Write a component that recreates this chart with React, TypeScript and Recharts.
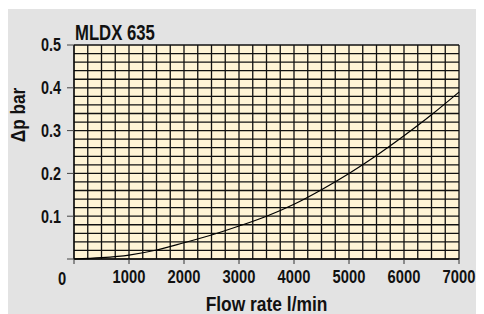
import React from "react";
import { ComposedChart, Line, XAxis, YAxis, CartesianGrid, ReferenceLine } from "recharts";

const flowRates = [0, 500, 1000, 1500, 2000, 2500, 3000, 3500, 4000, 4500, 5000, 5500, 6000, 6500, 7000];
const pressureDrop = [0, 0.003, 0.009, 0.021, 0.038, 0.056, 0.077, 0.1, 0.128, 0.162, 0.2, 0.242, 0.288, 0.337, 0.39];
const xTicks = [0, 1000, 2000, 3000, 4000, 5000, 6000, 7000];
const yTicks = [0, 0.1, 0.2, 0.3, 0.4, 0.5];
const xGridValues = [0, 250, 500, 750, 1000, 1250, 1500, 1750, 2000, 2250, 2500, 2750, 3000, 3250, 3500, 3750, 4000, 4250, 4500, 4750, 5000, 5250, 5500, 5750, 6000, 6250, 6500, 6750, 7000];
const yGridValues = [0, 0.02, 0.04, 0.06, 0.08, 0.1, 0.12, 0.14, 0.16, 0.18, 0.2, 0.22, 0.24, 0.26, 0.28, 0.3, 0.32, 0.34, 0.36, 0.38, 0.4, 0.42, 0.44, 0.46, 0.48, 0.5];
const title = "MLDX 635";
const xLabel = "Flow rate l/min";
const yLabel = "Δp bar";

const data = flowRates.map((f, i) => ({ flow: f, dp: pressureDrop[i] }));

const FONT = "'Liberation Sans', Arial, sans-serif";

const NarrowText = ({ x, y, sx, anchor, size, children, rotate }: any) => (
  <g transform={`translate(${x} ${y})${rotate ? ` rotate(${rotate})` : ""} scale(${sx} 1)`}>
    <text x={0} y={0} textAnchor={anchor} fontFamily={FONT} fontWeight="bold" fontSize={size} fill="#111">
      {children}
    </text>
  </g>
);

const XTick = (props: any) => {
  const { x, y, payload } = props;
  const isZero = payload.value === 0;
  return (
    <NarrowText x={x + (isZero ? -12 : 0)} y={y + 13 + (isZero ? 2 : 0)} sx={0.82} anchor="middle" size={18}>
      {payload.value}
    </NarrowText>
  );
};

const YTick = (props: any) => {
  const { x, y, payload } = props;
  if (payload.value === 0) return <g />;
  return (
    <NarrowText x={x} y={y + 6.4} sx={0.8} anchor="end" size={18}>
      {payload.value}
    </NarrowText>
  );
};

const XLabelContent = (props: any) => {
  const vb = props.viewBox || { x: 66, y: 250, width: 385, height: 55 };
  return (
    <NarrowText x={vb.x + vb.width / 2} y={vb.y + 52} sx={0.87} anchor="middle" size={20}>
      {xLabel}
    </NarrowText>
  );
};

const YLabelContent = (props: any) => {
  const vb = props.viewBox || { x: 0, y: 36, width: 66 };
  return (
    <g>
      <NarrowText x={vb.x + 17} y={vb.y + 70} sx={0.86} anchor="middle" size={20} rotate={-90}>
        {yLabel}
      </NarrowText>
      <NarrowText x={vb.x + vb.width + 1} y={vb.y - 5} sx={0.76} anchor="start" size={22}>
        {title}
      </NarrowText>
    </g>
  );
};

export default function App() {
  return (
    <div style={{ marginTop: 1, width: 476, height: 305, background: "#e3e3e3" }}>
      <ComposedChart width={476} height={305} data={data} margin={{ top: 36, right: 25, left: 0, bottom: 0 }}>
        <CartesianGrid horizontal={false} vertical={false} fill="#fff4d6" fillOpacity={1} />
        {xGridValues.map((v) => (
          <ReferenceLine key={"x" + v} x={v} stroke="#111" strokeWidth={1.3} ifOverflow="visible" />
        ))}
        {yGridValues.map((v) => (
          <ReferenceLine key={"y" + v} y={v} stroke="#111" strokeWidth={1.3} ifOverflow="visible" />
        ))}
        <XAxis
          dataKey="flow"
          type="number"
          domain={[0, 7000]}
          ticks={xTicks}
          height={55}
          tickSize={5}
          tickMargin={6}
          tick={<XTick />}
          tickLine={{ stroke: "#333" }}
          axisLine={{ stroke: "#000" }}
          interval={0}
          label={<XLabelContent />}
        />
        <YAxis
          type="number"
          domain={[0, 0.5]}
          ticks={yTicks}
          width={66}
          tickSize={7}
          tickMargin={6}
          tick={<YTick />}
          tickLine={{ stroke: "#444" }}
          axisLine={{ stroke: "#000" }}
          interval={0}
          label={<YLabelContent />}
        />
        <Line type="monotone" dataKey="dp" stroke="#000" strokeWidth={1.2} dot={false} isAnimationActive={false} />
      </ComposedChart>
    </div>
  );
}
